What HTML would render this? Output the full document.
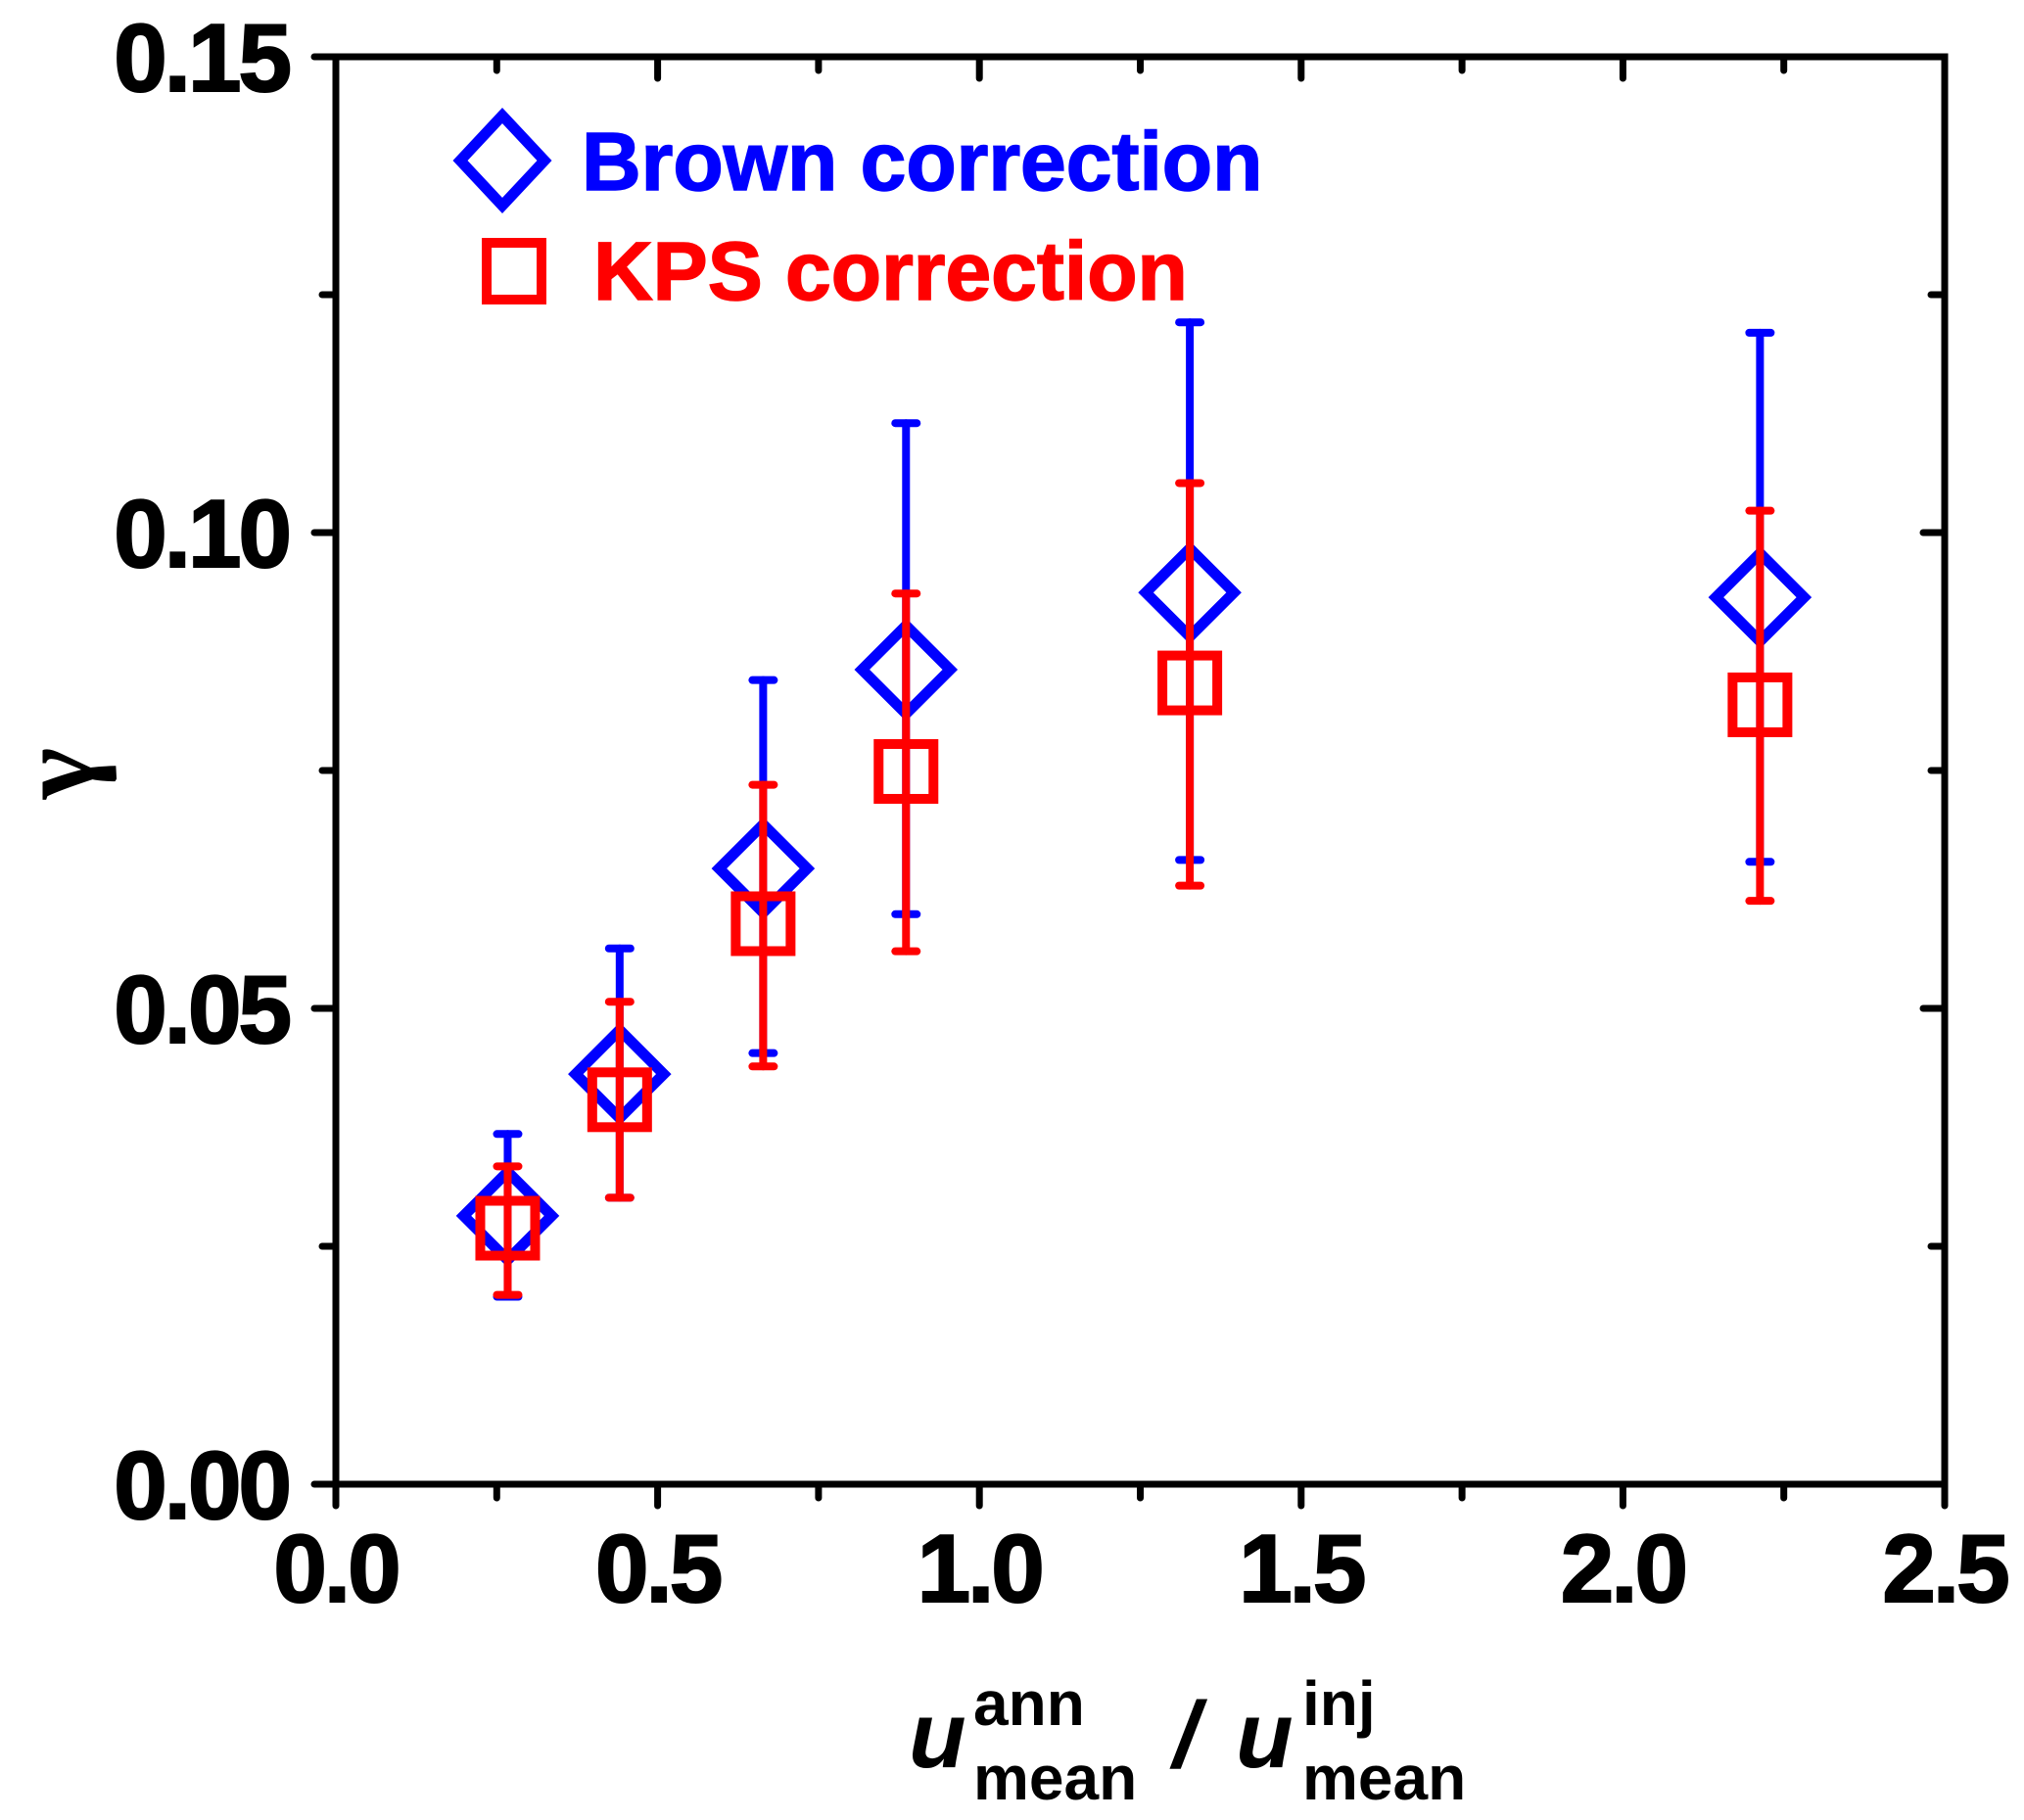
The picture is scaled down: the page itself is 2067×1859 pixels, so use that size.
<!DOCTYPE html>
<html><head><meta charset="utf-8"><style>
html,body{margin:0;padding:0;background:#fff;}
svg{display:block;font-family:"Liberation Sans",Arial,sans-serif;font-weight:bold;}
</style></head><body>
<svg id="chart" width="2067" height="1859" viewBox="0 0 2067 1859" xmlns="http://www.w3.org/2000/svg">
<g id="axes"></g>
<g id="marks"></g>
<g>
  <path d="M513,118 L556,164 L513,210 L470,164 Z" fill="none" stroke="#0000ff" stroke-width="11"/>
  <text x="594" y="194" font-size="84" fill="#0000ff" stroke="#0000ff" stroke-width="1.5">Brown correction</text>
  <rect x="497" y="248" width="56" height="58" fill="none" stroke="#ff0000" stroke-width="10"/>
  <text x="606" y="306" font-size="84" fill="#ff0000" stroke="#ff0000" stroke-width="1.5">KPS correction</text>
</g>
<text transform="translate(95,790) rotate(-90)" font-size="112" text-anchor="middle" font-family="Liberation Serif, serif">γ</text>
<g>
  <text x="928" y="1805" font-size="96" font-style="italic">u</text>
  <text x="994" y="1762" font-size="64">ann</text>
  <text x="994" y="1838" font-size="64">mean</text>
  <text x="1198" y="1805" font-size="96" font-style="italic">/</text>
  <text x="1262" y="1805" font-size="96" font-style="italic">u</text>
  <text x="1330" y="1762" font-size="64">inj</text>
  <text x="1330" y="1838" font-size="64">mean</text>
</g>
</svg>
<script>
const xVals = [0.267, 0.441, 0.664, 0.886, 1.327, 2.213];
const brownY = [0.0282, 0.0431, 0.0647, 0.0856, 0.0937, 0.0932];
const brownHi = [0.0368, 0.0563, 0.0845, 0.1115, 0.1221, 0.1210];
const brownLo = [0.0197, 0.0301, 0.0453, 0.0599, 0.0656, 0.0654];
const kpsY = [0.0269, 0.0404, 0.0589, 0.0749, 0.0842, 0.0819];
const kpsHi = [0.0334, 0.0507, 0.0735, 0.0936, 0.1052, 0.1023];
const kpsLo = [0.0199, 0.0301, 0.0439, 0.0560, 0.0629, 0.0613];
const xTicks = ["0.0","0.5","1.0","1.5","2.0","2.5"];
const yTicks = ["0.00","0.05","0.10","0.15"];

const X0=343, X1=1986, Y0=1516, Y1=58;
const sx = v => X0 + (v/2.5)*(X1-X0);
const sy = v => Y0 - (v/0.15)*(Y0-Y1);
const NS="http://www.w3.org/2000/svg";
function mk(parent, tag, attrs){const e=document.createElementNS(NS,tag);for(const k in attrs)e.setAttribute(k,attrs[k]);parent.appendChild(e);return e;}
const axes=document.getElementById('axes'), marks=document.getElementById('marks');

const frame=mk(axes,'rect',{x:X0,y:Y1,width:X1-X0,height:Y0-Y1,fill:'none',stroke:'#000','stroke-width':7});



for(let i=0;i<=10;i++){
  const v=i*0.25, x=sx(v), major=i%2===0, L=major?22:14;
  const t1=mk(axes,'line',{x1:x,x2:x,y1:Y0,y2:Y0+L,stroke:'#000','stroke-width':7,'stroke-linecap':'round'});
  
  
  const t2=mk(axes,'line',{x1:x,x2:x,y1:Y1,y2:Y1+L,stroke:'#000','stroke-width':7,'stroke-linecap':'round'});
  
  
}
xTicks.forEach((s,i)=>{
  const t=mk(axes,'text',{x:sx(i*0.5),y:Y0+120,'font-size':98,'text-anchor':'middle','letter-spacing':-3,stroke:'#000','stroke-width':2});
  t.textContent=s;
  
  
});
for(let i=0;i<=6;i++){
  const v=i*0.025, y=sy(v), major=i%2===0, L=major?22:14;
  const t1=mk(axes,'line',{x1:X0-L,x2:X0,y1:y,y2:y,stroke:'#000','stroke-width':7,'stroke-linecap':'round'});
  
  
  const t2=mk(axes,'line',{x1:X1-L,x2:X1,y1:y,y2:y,stroke:'#000','stroke-width':7,'stroke-linecap':'round'});
  
  
}
yTicks.forEach((s,i)=>{
  const t=mk(axes,'text',{x:X0-48,y:sy(i*0.05)+35,'font-size':98,'text-anchor':'end','letter-spacing':-3,stroke:'#000','stroke-width':2});
  t.textContent=s;
  
  
});

function errbars(ys,hi,lo,color,name){
  xVals.forEach((xv,i)=>{
    const x=sx(xv);
    const g=mk(marks,'g',{stroke:color,'stroke-width':8,'stroke-linecap':'round'});
    
    
    mk(g,'line',{x1:x,x2:x,y1:sy(hi[i]),y2:sy(lo[i])});
    mk(g,'line',{x1:x-11,x2:x+11,y1:sy(hi[i]),y2:sy(hi[i])});
    mk(g,'line',{x1:x-11,x2:x+11,y1:sy(lo[i]),y2:sy(lo[i])});
  });
}
errbars(brownY,brownHi,brownLo,'#0000ff','brown-error-bar');
xVals.forEach((xv,i)=>{
  const x=sx(xv), y=sy(brownY[i]), r=45;
  const d=mk(marks,'path',{d:`M${x},${y-r} L${x+r},${y} L${x},${y+r} L${x-r},${y} Z`,fill:'none',stroke:'#0000ff','stroke-width':11});
  
  
});
errbars(kpsY,kpsHi,kpsLo,'#ff0000','kps-error-bar');
xVals.forEach((xv,i)=>{
  const x=sx(xv), y=sy(kpsY[i]), h=28;
  const r=mk(marks,'rect',{x:x-h,y:y-h,width:2*h,height:2*h,fill:'none',stroke:'#ff0000','stroke-width':10});
  
  
});
</script>
</body></html>
